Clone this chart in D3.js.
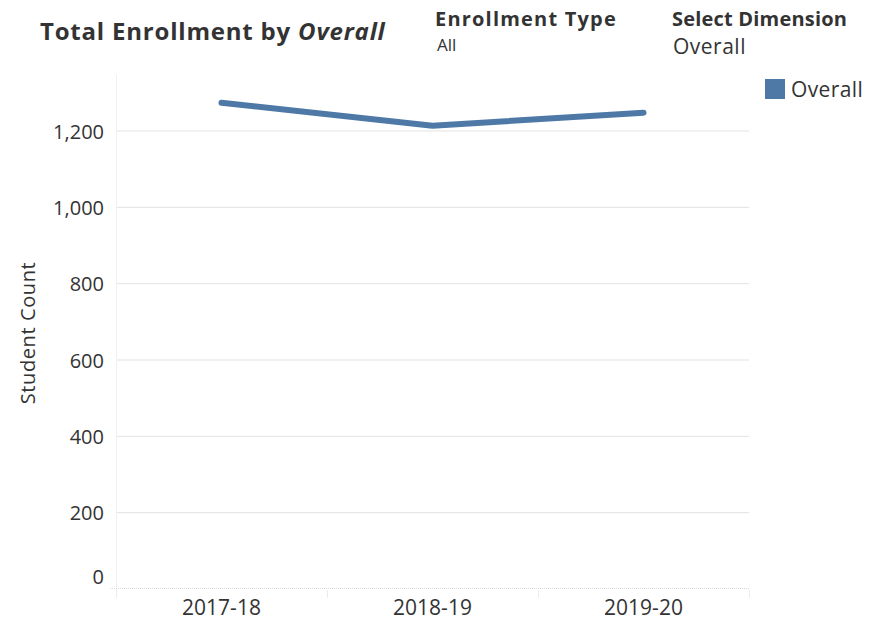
<!DOCTYPE html>
<html>
<head>
    <meta charset="utf-8">
    <script src="https://d3js.org/d3.v7.min.js"></script>
    <style>
        body { margin: 0; background: #fff; }
        text { font-family: "Open Sans", "Noto Sans", sans-serif; fill: #333; }
    </style>
</head>
<body>
    <div id="chart"></div>

    <script>
        // data
        const years = ['2017-18', '2018-19', '2019-20'];
        const overall = [1274, 1214, 1248];
        const yTicks = [0, 200, 400, 600, 800, 1000, 1200];
        const seriesName = 'Overall';

        const width = 884;
        const height = 621;
        const margin = {top: 75, right: 135, bottom: 32, left: 116};
        const color = '#4e79a7';

        const svg = d3.select('#chart')
            .append('svg')
            .attr('width', width)
            .attr('height', height);

        // scales
        const x = d3.scaleBand()
            .domain(years)
            .range([margin.left, width - margin.right]);

        const y = d3.scaleLinear()
            .domain([0, 1200])
            .range([589, 131]);

        // gridlines
        svg.append('g')
            .selectAll('line')
            .data(yTicks.filter(d => d > 0))
            .enter()
            .append('line')
            .attr('x1', margin.left)
            .attr('x2', width - margin.right)
            .attr('y1', d => y(d))
            .attr('y2', d => y(d))
            .attr('stroke', '#e3e3e3')
            .attr('stroke-width', 1);

        // left axis line
        svg.append('line')
            .attr('x1', margin.left + 0.5).attr('x2', margin.left + 0.5)
            .attr('y1', margin.top).attr('y2', 598)
            .attr('stroke', '#f0f0f0');

        // zero line (dotted)
        svg.append('line')
            .attr('x1', margin.left - 6).attr('x2', width - margin.right)
            .attr('y1', y(0) - 0.5).attr('y2', y(0) - 0.5)
            .attr('stroke', '#d9d9d9')
            .attr('stroke-dasharray', '1,1');

        // y axis labels (the zero label sits above the baseline, as in tableau)
        svg.append('g')
            .attr('transform', `translate(${margin.left - 12},0)`)
            .call(d3.axisLeft(y).tickValues(yTicks).tickSize(0).tickFormat(d3.format(',')))
            .call(g => g.select('.domain').remove())
            .selectAll('text')
            .attr('x', 0)
            .attr('y', d => d === 0 ? -13 : 0)
            .attr('font-size', 20)
            .attr('dy', '0.36em')
            .style('font-family', '"Open Sans", sans-serif')
            .attr('fill', '#333');

        // x axis
        const xAxis = svg.append('g')
            .attr('transform', `translate(0,${y(0)})`)
            .call(d3.axisBottom(x).tickSize(0));
        xAxis.select('.domain').remove();
        xAxis.selectAll('text')
            .attr('font-size', 21)
            .attr('y', 26)
            .attr('dy', 0)
            .style('font-family', '"Open Sans", sans-serif')
            .attr('fill', '#333');

        // band separators
        svg.append('g')
            .selectAll('line')
            .data(years.map(d => x(d)).concat([x(years[years.length - 1]) + x.bandwidth()]))
            .enter()
            .append('line')
            .attr('x1', d => d + 0.5).attr('x2', d => d + 0.5)
            .attr('y1', y(0) + 1).attr('y2', y(0) + 9)
            .attr('stroke', '#ececec');

        // line
        const line = d3.line()
            .x((d, i) => x(years[i]) + x.bandwidth() / 2)
            .y(d => y(d));

        svg.append('path')
            .datum(overall)
            .attr('d', line)
            .attr('fill', 'none')
            .attr('stroke', color)
            .attr('stroke-width', 6)
            .attr('stroke-linecap', 'round')
            .attr('stroke-linejoin', 'round');

        // y axis title
        svg.append('text')
            .attr('transform', 'translate(35,333) rotate(-90)')
            .attr('text-anchor', 'middle')
            .attr('font-size', 20)
            .attr('letter-spacing', 0.6)
            .text('Student Count');

        // title
        const title = svg.append('text')
            .attr('x', 40)
            .attr('y', 40)
            .attr('font-size', 24)
            .attr('letter-spacing', 0.8)
            .attr('font-weight', 'bold');
        title.append('tspan').text('Total Enrollment by ');
        title.append('tspan').attr('font-style', 'italic').text('Overall');

        // filters
        svg.append('text').attr('x', 435).attr('y', 26)
            .attr('font-size', 20).attr('letter-spacing', 1.2)
            .attr('font-weight', 'bold').text('Enrollment Type');
        svg.append('text').attr('x', 437).attr('y', 51)
            .attr('font-size', 17).text('All');
        svg.append('text').attr('x', 672).attr('y', 26)
            .attr('font-size', 20).attr('letter-spacing', 0.2)
            .attr('font-weight', 'bold').text('Select Dimension');
        svg.append('text').attr('x', 673).attr('y', 54)
            .attr('font-size', 21).attr('letter-spacing', 0.5).text('Overall');

        // legend
        const legend = svg.append('g').attr('transform', 'translate(765,79)');
        legend.append('rect').attr('width', 20).attr('height', 20).attr('fill', color);
        legend.append('text').attr('x', 26).attr('y', 18).attr('font-size', 21)
            .attr('letter-spacing', 0.4).text(seriesName);
    </script>
</body>
</html>
